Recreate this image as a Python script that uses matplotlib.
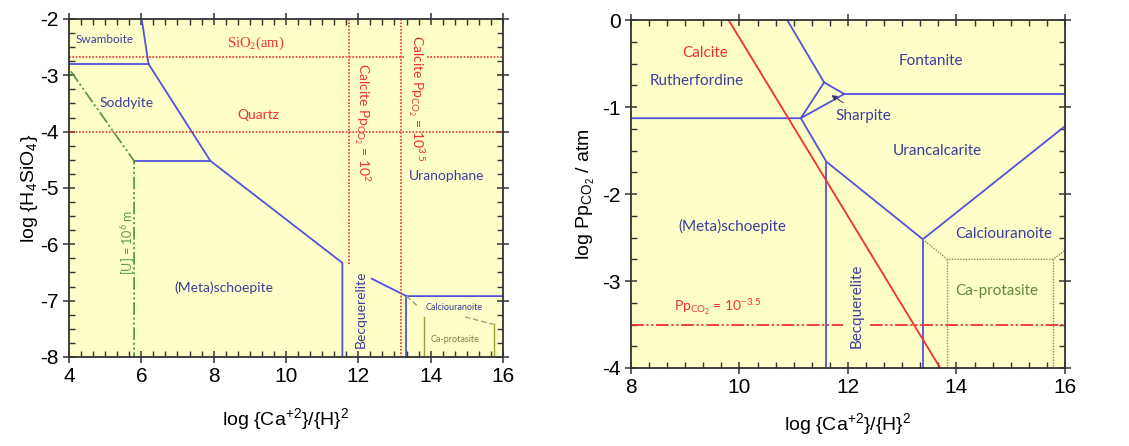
import matplotlib
matplotlib.use("Agg")
import matplotlib.pyplot as plt
from matplotlib.ticker import MultipleLocator

plt.rcParams['font.family'] = ['Liberation Sans', 'DejaVu Sans']
plt.rcParams['mathtext.default'] = 'regular'
plt.rcParams['axes.unicode_minus'] = False

# ---- left diagram: log {H4SiO4} vs log {Ca+2}/{H}2 ----
# blue phase boundaries
l_b1_x = [6.01, 6.20, 7.91, 11.56, 11.56]
l_b1_y = [-2.0, -2.80, -4.52, -6.33, -8.0]
l_b2_x = [4.0, 6.20]
l_b2_y = [-2.80, -2.80]
l_b3_x = [5.80, 7.91]
l_b3_y = [-4.52, -4.52]
l_b4_x = [12.37, 13.33, 16.0]
l_b4_y = [-6.61, -6.92, -6.92]
l_b5_x = [13.33, 13.33]
l_b5_y = [-6.92, -8.0]
# [U] = 10^-6 m limit (green)
l_u_x = [4.05, 5.80, 5.80]
l_u_y = [-2.93, -4.52, -8.0]
# silica / calcite saturation (red dotted)
sio2_am = -2.68
quartz = -4.01
sio2_gap = [13.25, 13.90]
calc2_x = 11.73
calc2_ymin = -6.37
calc35_x = 13.19
# Ca-protasite field (olive)
l_o1_x = [13.33, 13.66]
l_o1_y = [-6.92, -7.11]
l_o2_x = [14.95, 15.74]
l_o2_y = [-7.29, -7.42]
l_ov_x = [13.81, 15.74]
l_ov_top = [-7.29, -7.42]

# ---- right diagram: log PpCO2 vs log {Ca+2}/{H}2 ----
r_b1_x = [10.88, 11.56, 11.93, 16.0]
r_b1_y = [0.0, -0.716, -0.85, -0.85]
r_b2_x = [11.56, 11.13, 11.93]
r_b2_y = [-0.716, -1.128, -0.85]
r_b3_x = [8.0, 11.13, 11.60, 13.38, 16.0]
r_b3_y = [-1.128, -1.128, -1.627, -2.52, -1.22]
r_b4_x = [11.60, 11.60]
r_b4_y = [-1.627, -4.0]
r_b5_x = [13.38, 13.38]
r_b5_y = [-2.52, -4.0]
calcite_x = [9.80, 13.70]
calcite_y = [0.0, -4.0]
pp_level = -3.5
pp_gap = [11.91, 12.40]
r_o_x = [13.38, 13.83, 15.78, 16.0]
r_o_y = [-2.52, -2.75, -2.75, -2.65]
r_ov_x = [13.83, 15.78]
r_ov_top = -2.75

BG = '#fefec9'
BLUE = '#5252dc'
TBLUE = '#3d3d9e'
RED = '#f23030'
GREEN = '#5c9a45'
OLIVE = '#9c9c38'
dashdotdot = (0, (7, 1.5, 1.2, 1.5, 1.2, 1.5))
dots = (0, (1, 1))

fig = plt.figure(figsize=(11.29, 4.46), dpi=100)
ax1 = fig.add_axes([0.0611, 0.1996, 0.3844, 0.758])
ax2 = fig.add_axes([0.5589, 0.1749, 0.3844, 0.780])

for ax in (ax1, ax2):
    ax.set_facecolor(BG)
    for s in ax.spines.values():
        s.set_color('#333333')
        s.set_linewidth(1.3)
    ax.tick_params(which='major', direction='inout', length=8, width=1.1,
                   top=True, right=True, labelsize=15, colors='#333333',
                   labelcolor='black')
    ax.tick_params(which='minor', direction='in', length=4, width=1.0,
                   top=True, right=True, colors='#333333')

lw = 1.3
# left lines
for xs, ys in [(l_b1_x, l_b1_y), (l_b2_x, l_b2_y), (l_b3_x, l_b3_y),
               (l_b4_x, l_b4_y), (l_b5_x, l_b5_y)]:
    ax1.plot(xs, ys, color=BLUE, lw=lw)
ax1.plot(l_u_x, l_u_y, color=GREEN, lw=1.3, linestyle=dashdotdot)
ax1.plot([4, sio2_gap[0]], [sio2_am, sio2_am], color=RED, lw=1.2, linestyle=dots)
ax1.plot([sio2_gap[1], 16], [sio2_am, sio2_am], color=RED, lw=1.2, linestyle=dots)
ax1.plot([4, 16], [quartz, quartz], color=RED, lw=1.2, linestyle=dots)
ax1.plot([calc2_x, calc2_x], [-2, calc2_ymin], color=RED, lw=1.2, linestyle=dots)
ax1.plot([calc35_x, calc35_x], [-2, -8], color=RED, lw=1.2, linestyle=dots)
ax1.plot(l_o1_x, l_o1_y, color='#a0a078', lw=1.0, linestyle=(0, (4, 2)))
ax1.plot(l_o2_x, l_o2_y, color='#a0a078', lw=1.0, linestyle=(0, (4, 2)))
for x, top in zip(l_ov_x, l_ov_top):
    ax1.plot([x, x], [top, -8], color=OLIVE, lw=1.0)

ax1.set_xlim(4, 16)
ax1.set_ylim(-8, -2)
ax1.xaxis.set_major_locator(MultipleLocator(2))
ax1.xaxis.set_minor_locator(MultipleLocator(2 / 6))
ax1.yaxis.set_major_locator(MultipleLocator(1))
ax1.yaxis.set_minor_locator(MultipleLocator(0.25))
ax1.set_xlabel('log {Ca$^{+2}$}/{H}$^2$', fontsize=14, labelpad=14)
ax1.set_ylabel('log {H$_4$SiO$_4$}', fontsize=14, labelpad=0)

lab = dict(family=['Lato', 'DejaVu Sans'], ha='center', va='center')
ax1.text(4.99, -2.37, 'Swamboite', color=TBLUE, fontsize=8.5, **lab)
ax1.text(9.15, -2.43, 'SiO$_2$(am)', color=RED, fontsize=10.5,
         family=['Liberation Serif'], ha='center', va='center')
ax1.text(5.60, -3.49, 'Soddyite', color=TBLUE, fontsize=10, **lab)
ax1.text(9.24, -3.71, 'Quartz', color=RED, fontsize=10, **lab)
ax1.text(12.10, -3.83, 'Calcite Pp$_{CO_2}$ = 10$^2$', color=RED, fontsize=10,
         rotation=-90, **lab)
ax1.text(13.60, -3.41, 'Calcite Pp$_{CO_2}$ = 10$^{3.5}$', color=RED, fontsize=10,
         rotation=-90, **lab)
ax1.text(14.45, -4.78, 'Uranophane', color=TBLUE, fontsize=10, **lab)
ax1.text(5.64, -5.96, '[U] = 10$^6$ m', color=GREEN, fontsize=9,
         rotation=90, **lab)
ax1.text(8.27, -6.77, '(Meta)schoepite', color=TBLUE, fontsize=10, **lab)
ax1.text(12.07, -7.15, 'Becquerelite', color=TBLUE, fontsize=10,
         rotation=90, **lab)
ax1.text(14.64, -7.13, 'Calciouranoite', color=TBLUE, fontsize=6.5, **lab)
ax1.text(14.68, -7.69, 'Ca-protasite', color='#7f7f40', fontsize=6.5, **lab)

# right lines
for xs, ys in [(r_b1_x, r_b1_y), (r_b2_x, r_b2_y), (r_b3_x, r_b3_y),
               (r_b4_x, r_b4_y), (r_b5_x, r_b5_y)]:
    ax2.plot(xs, ys, color=BLUE, lw=lw)
ax2.plot(calcite_x, calcite_y, color=RED, lw=1.3)
ax2.plot([8, pp_gap[0]], [pp_level, pp_level], color=RED, lw=1.3, linestyle=dashdotdot)
ax2.plot([pp_gap[1], 16], [pp_level, pp_level], color=RED, lw=1.3, linestyle=dashdotdot)
ax2.plot(r_o_x, r_o_y, color='#8a8a50', lw=1.0, linestyle=dots)
for x in r_ov_x:
    ax2.plot([x, x], [r_ov_top, -4], color='#8a8a50', lw=1.0, linestyle=dots)
ax2.annotate('', xy=(11.65, -0.847), xytext=(11.96, -0.967),
             arrowprops=dict(arrowstyle='-|>', color='#333366', lw=0.7,
                             mutation_scale=8))

ax2.set_xlim(8, 16)
ax2.set_ylim(-4, 0)
ax2.xaxis.set_major_locator(MultipleLocator(2))
ax2.xaxis.set_minor_locator(MultipleLocator(2 / 6))
ax2.yaxis.set_major_locator(MultipleLocator(1))
ax2.yaxis.set_minor_locator(MultipleLocator(0.25))
ax2.set_xlabel('log {Ca$^{+2}$}/{H}$^2$', fontsize=14, labelpad=10)
ax2.set_ylabel('log Pp$_{CO_2}$ / atm', fontsize=14, labelpad=4)

ax2.text(9.37, -0.38, 'Calcite', color=RED, fontsize=11, **lab)
ax2.text(9.22, -0.70, 'Rutherfordine', color=TBLUE, fontsize=11, **lab)
ax2.text(13.53, -0.47, 'Fontanite', color=TBLUE, fontsize=11, **lab)
ax2.text(12.29, -1.10, 'Sharpite', color=TBLUE, fontsize=11, **lab)
ax2.text(13.64, -1.50, 'Urancalcarite', color=TBLUE, fontsize=11, **lab)
ax2.text(9.86, -2.37, '(Meta)schoepite', color=TBLUE, fontsize=11, **lab)
ax2.text(14.87, -2.46, 'Calciouranoite', color=TBLUE, fontsize=11, **lab)
ax2.text(14.75, -3.11, 'Ca-protasite', color='#5f8a3a', fontsize=11, **lab)
ax2.text(9.59, -3.30, 'Pp$_{CO_2}$ = 10$^{-3.5}$', color=RED, fontsize=10, **lab)
ax2.text(12.15, -3.29, 'Becquerelite', color=TBLUE, fontsize=11,
         rotation=90, **lab)

fig.savefig('out.png', dpi=100)
